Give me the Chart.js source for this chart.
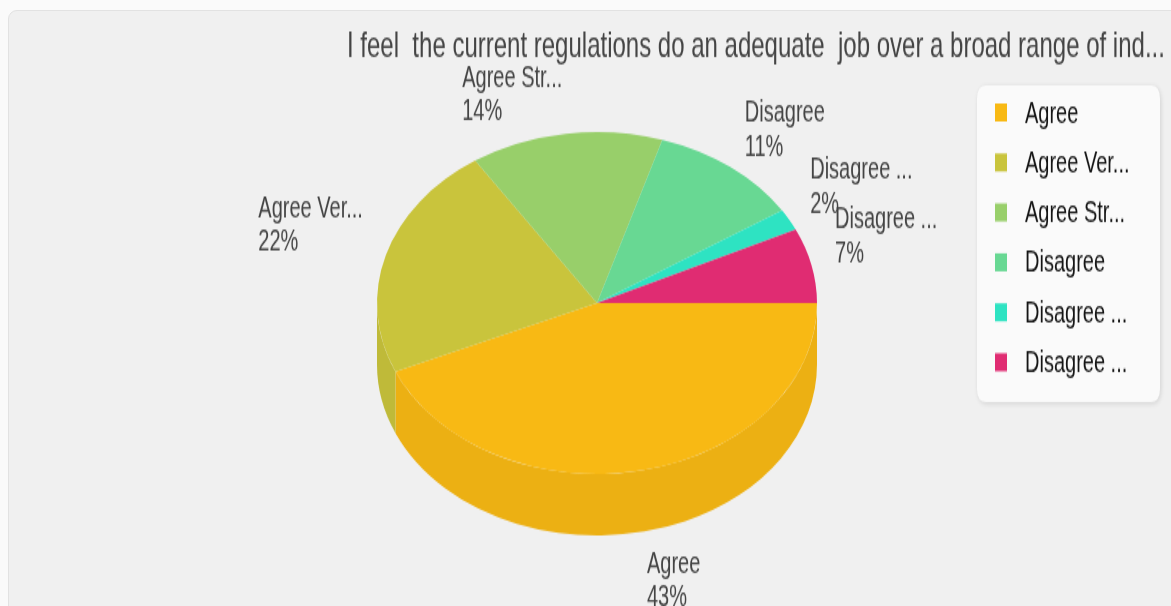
<!DOCTYPE html>
<html>
<head>
<meta charset="utf-8">
<title>Regulations survey</title>
<script src="https://cdn.jsdelivr.net/npm/chart.js@4.4.1/dist/chart.umd.min.js"></script>
<style>
  html, body { margin: 0; padding: 0; background: #fafafa; overflow: hidden; }
  body { width: 1171px; height: 606px; position: relative; }
  .panel {
    position: absolute; left: 8px; top: 10px; width: 1190px; height: 640px;
    background: #f0f0f0; border: 1px solid #e2e2e2; border-radius: 9px;
  }
  /* the chart is drawn flat and stretched tall, like the old widget */
  #pie { position: absolute; left: 0; top: 0; transform-origin: 0 0; transform: scaleY(1.5); }
</style>
</head>
<body>
<div class="panel"></div>
<canvas id="pie" width="1171" height="404"></canvas>
<script>
const chartTitle = 'I feel  the current regulations do an adequate  job over a broad range of ind...';
const categories = ['Agree', 'Agree Ver...', 'Agree Str...', 'Disagree', 'Disagree ...', 'Disagree ...'];
const percentValues = [43, 22, 14, 11, 2, 7];
const sliceColors = ['#f8b914', '#c9c43c', '#98cf6a', '#68d893', '#2ee3c2', '#e02c72'];

const TILT_X = 220 / 114;   // horizontal stretch of the pie disc
const DEPTH = 41;           // thickness of the pie edge
const FONT = '"Liberation Sans", Arial, sans-serif';

function shade(hex, f) {
    const n = parseInt(hex.slice(1), 16);
    const r = Math.round(((n >> 16) & 255) * f);
    const g = Math.round(((n >> 8) & 255) * f);
    const b = Math.round((n & 255) * f);
    return 'rgb(' + r + ',' + g + ',' + b + ')';
}

function roundBox(ctx, x, y, w, h, r) {
    ctx.beginPath();
    ctx.moveTo(x + r, y);
    ctx.lineTo(x + w - r, y);
    ctx.quadraticCurveTo(x + w, y, x + w, y + r);
    ctx.lineTo(x + w, y + h - r);
    ctx.quadraticCurveTo(x + w, y + h, x + w - r, y + h);
    ctx.lineTo(x + r, y + h);
    ctx.quadraticCurveTo(x, y + h, x, y + h - r);
    ctx.lineTo(x, y + r);
    ctx.quadraticCurveTo(x, y, x + r, y);
    ctx.closePath();
}

// 3d look: squash the disc into an ellipse and paint the edge below it
const tiltedPie = {
    id: 'tiltedPie',
    beforeDatasetsDraw(chart) {
        const ctx = chart.ctx;
        const arcs = chart.getDatasetMeta(0).data;
        const cx = arcs[0].x, cy = arcs[0].y, r = arcs[0].outerRadius;
        ctx.save();
        ctx.translate(cx, cy);
        ctx.scale(TILT_X, 1);
        ctx.translate(-cx, -cy);
        arcs.forEach((el, i) => {
            const s = Math.max(el.startAngle, 0);
            const e = Math.min(el.endAngle, Math.PI);
            if (e <= s) return;
            ctx.beginPath();
            ctx.arc(cx, cy, r, s, e);
            ctx.arc(cx, cy + DEPTH, r, e, s, true);
            ctx.closePath();
            ctx.fillStyle = shade(sliceColors[i], 0.95);
            ctx.fill();
        });
    },
    afterDatasetsDraw(chart) {
        const ctx = chart.ctx;
        ctx.restore();

        // slice labels
        const arcs = chart.getDatasetMeta(0).data;
        ctx.save();
        ctx.font = '20px ' + FONT;
        ctx.fillStyle = '#444';
        ctx.textAlign = 'left';
        ctx.textBaseline = 'alphabetic';
        const lineGap = 22.7, cap = 15;
        arcs.forEach((el, i) => {
            const mid = (el.startAngle + el.endAngle) / 2;
            const cos = Math.cos(mid), sin = Math.sin(mid);
            const ax = el.x + el.outerRadius * TILT_X * cos;
            const ay = el.y + el.outerRadius * sin;
            const name = categories[i];
            const pct = percentValues[i] + '%';
            const w = Math.max(ctx.measureText(name).width, ctx.measureText(pct).width);
            const push = 24 * Math.abs(cos);
            const left = cos >= 0 ? ax + push : ax - push - w;
            let base;
            if (sin < 0) {
                base = ay - 9 * Math.abs(sin) - lineGap;
            } else {
                base = ay + DEPTH + 12 + cap;
            }
            ctx.fillText(name, left, base);
            ctx.fillText(pct, left, base + lineGap);
        });
        ctx.restore();
    },
    afterDraw(chart) {
        const ctx = chart.ctx;
        ctx.save();

        // title
        ctx.font = '24px ' + FONT;
        ctx.fillStyle = '#444';
        ctx.textAlign = 'left';
        ctx.textBaseline = 'alphabetic';
        ctx.fillText(chartTitle, 347, 38);

        // legend panel
        ctx.save();
        ctx.shadowColor = 'rgba(0,0,0,0.13)';
        ctx.shadowBlur = 4;
        ctx.shadowOffsetX = 1;
        ctx.shadowOffsetY = 1;
        roundBox(ctx, 977, 57, 183, 211, 9);
        ctx.fillStyle = '#fafafa';
        ctx.fill();
        ctx.restore();

        ctx.font = '20px ' + FONT;
        ctx.textBaseline = 'middle';
        categories.forEach((label, i) => {
            const y = 75 + i * 33.3;
            ctx.fillStyle = sliceColors[i];
            ctx.fillRect(995, y - 6, 12, 12);
            ctx.fillStyle = '#151515';
            ctx.fillText(label, 1025, y + 1);
        });
        ctx.restore();
    }
};

new Chart(document.getElementById('pie'), {
    type: 'pie',
    data: {
        labels: categories,
        datasets: [{
            data: percentValues,
            backgroundColor: sliceColors,
            borderWidth: 0,
            hoverOffset: 0,
            radius: 114,
            clip: false
        }]
    },
    options: {
        responsive: false,
        animation: false,
        rotation: 90,
        layout: { padding: { left: 483, right: 460, top: 88, bottom: 88 } },
        plugins: {
            legend: { display: false },
            tooltip: { enabled: false }
        }
    },
    plugins: [tiltedPie]
});
</script>
</body>
</html>
